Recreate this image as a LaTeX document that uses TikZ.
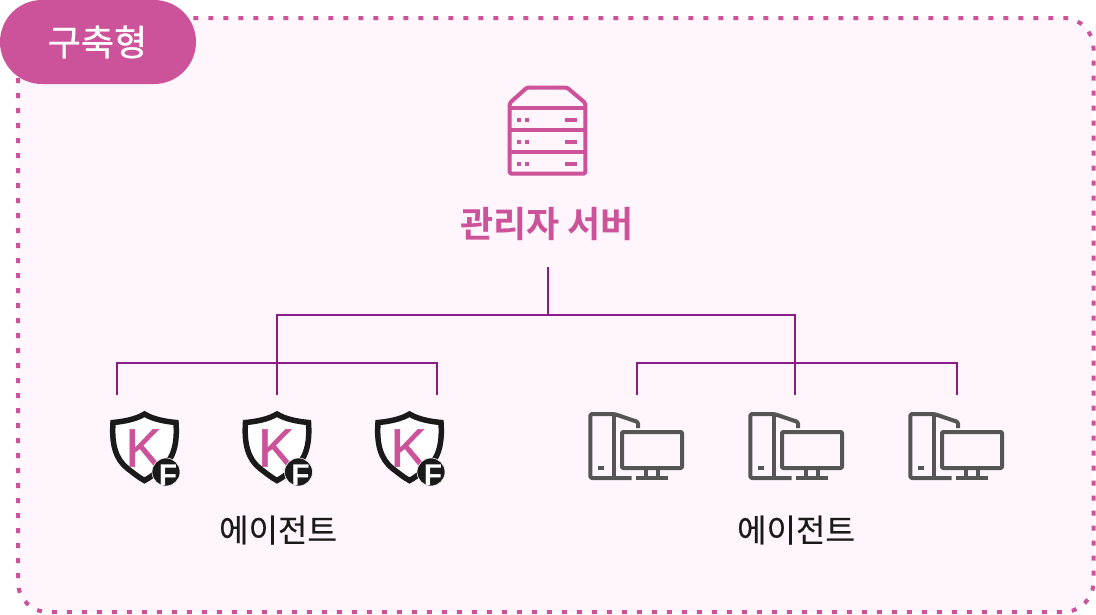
\documentclass[tikz,border=0pt]{standalone}
\usepackage{fontspec}
\setmainfont{Liberation Sans}
\newfontfamily\kr[FakeBold=0.25]{Noto Sans CJK KR}
\newfontfamily\krmed[FakeBold=0.8]{Noto Sans CJK KR}
\newfontfamily\krbold{Noto Sans CJK KR Bold}
\newfontfamily\kfont[FakeBold=0.9]{Liberation Sans}
\definecolor{pinkc}{HTML}{CC5299}
\definecolor{panelc}{HTML}{FFF5FC}
\definecolor{linec}{HTML}{8B1A89}
\definecolor{grayc}{HTML}{555555}
\definecolor{inkc}{HTML}{1A1A1A}
\tikzset{
  panelbox/.style={draw=pinkc,fill=panelc,line width=4pt,dash pattern=on 5pt off 10pt,rounded corners=30pt},
  tagbox/.style={fill=pinkc,rounded corners=42pt},
  wire/.style={draw=linec,line width=2pt,line cap=rect},
  srv/.style={draw=pinkc,line width=4pt,line join=round},
  srvfill/.style={fill=pinkc},
  pcline/.style={draw=grayc,line width=4pt,line join=round},
  label/.style={inner sep=0pt,anchor=center,font=\kr},
  pics/shieldicon/.style={code={
    \draw[draw=inkc,fill=white,line width=5.5pt,line join=miter]
      (0,-58) .. controls (-8,-53) and (-20,-50.5) .. (-31.5,-49.5)
      .. controls (-33,-28) and (-29,-13) .. (-17,-3.5)
      .. controls (-11,1) and (-5,6) .. (0,8.5)
      .. controls (5,6) and (11,1) .. (17,-3.5)
      .. controls (29,-13) and (33,-28) .. (31.5,-49.5)
      .. controls (20,-50.5) and (8,-53) .. (0,-58) -- cycle;
    \node[inner sep=0pt,text=pinkc,font=\kfont\fontsize{54}{54}\selectfont] at (-1,-24) {K};
    \fill[inkc,draw=panelc,line width=.6pt] (21.5,0) circle (14);
    \node[inner sep=0pt,text=white,font=\bfseries\fontsize{30}{30}\selectfont] at (23.5,3) {F};
  }},
  pics/pcicon/.style={code={
    \draw[pcline,rounded corners=1.5pt] (41.4,64) -- (0,64) -- (0,0) -- (24,0) -- (47.7,8) -- (47.7,14);
    \draw[pcline] (24,0) -- (24,64);
    \fill[grayc] (8,52) rectangle (13.7,55.7);
    \draw[pcline,rounded corners=1pt] (31.7,18) rectangle (91.7,54);
    \draw[pcline] (55.7,54) -- (55.7,64) (67.7,54) -- (67.7,64);
    \draw[pcline] (45.7,64) -- (77.4,64);
  }}
}
\begin{document}
\begin{tikzpicture}[x=1pt,y=-1pt]
\useasboundingbox (0,0) rectangle (1096,614);
\fill[white] (0,0) rectangle (1096,614);
\draw[panelbox] (18,18) rectangle (1093.5,612);
\fill[tagbox] (0,0) rectangle (196,84);
\node[label,text=white,font=\krmed\fontsize{36}{36}\selectfont] (tag) at (97.5,42) {구축형};

% server icon
\draw[srv,rounded corners=1.5pt] (509.7,173.7) -- (509.7,103) -- (527,87.5) -- (567,87.5) -- (585.3,103) -- (585.3,173.7) -- cycle;
\draw[srv] (509.7,107.7) -- (585.3,107.7) (509.7,130) -- (585.3,130) (509.7,152) -- (585.3,152);
\foreach \yy in {119.5,141.5,163.5}{
  \fill[srvfill] (517,\yy-2) rectangle +(4,4);
  \fill[srvfill] (525,\yy-2) rectangle +(4,4);
  \fill[srvfill] (565,\yy-2) rectangle +(12,4);
}
\node[label,text=pinkc,font=\krbold\fontsize{36}{36}\selectfont] (server) at (547,224) {관리자 서버};

% connectors
\coordinate (root) at (548,268);
\coordinate (hub) at (548,315);
\coordinate (busL) at (277,315);
\coordinate (busR) at (795,315);
\coordinate (a2) at (277,394);
\coordinate (b2) at (795,394);
\coordinate (a1t) at (117,363);
\coordinate (a1) at (117,394);
\coordinate (a3t) at (437,363);
\coordinate (a3) at (437,394);
\coordinate (b1t) at (637,363);
\coordinate (b1) at (637,394);
\coordinate (b3t) at (957,363);
\coordinate (b3) at (957,394);
\draw[wire] (root) -- (hub);
\draw[wire] (busL) -- (busR);
\draw[wire] (busL) -- (a2);
\draw[wire] (busR) -- (b2);
\draw[wire] (a1) -- (a1t) -- (a3t) -- (a3);
\draw[wire] (b1) -- (b1t) -- (b3t) -- (b3);

% agents
\pic at (144.5,472) {shieldicon};
\pic at (277,472) {shieldicon};
\pic at (409.5,472) {shieldicon};
\pic at (590.3,414) {pcicon};
\pic at (750.3,414) {pcicon};
\pic at (910.3,414) {pcicon};
\node[label,text=inkc,font=\kr\fontsize{32}{32}\selectfont] (agentsA) at (278,530) {에이전트};
\node[label,text=inkc,font=\kr\fontsize{32}{32}\selectfont] (agentsB) at (796,530) {에이전트};
\end{tikzpicture}
\end{document}
